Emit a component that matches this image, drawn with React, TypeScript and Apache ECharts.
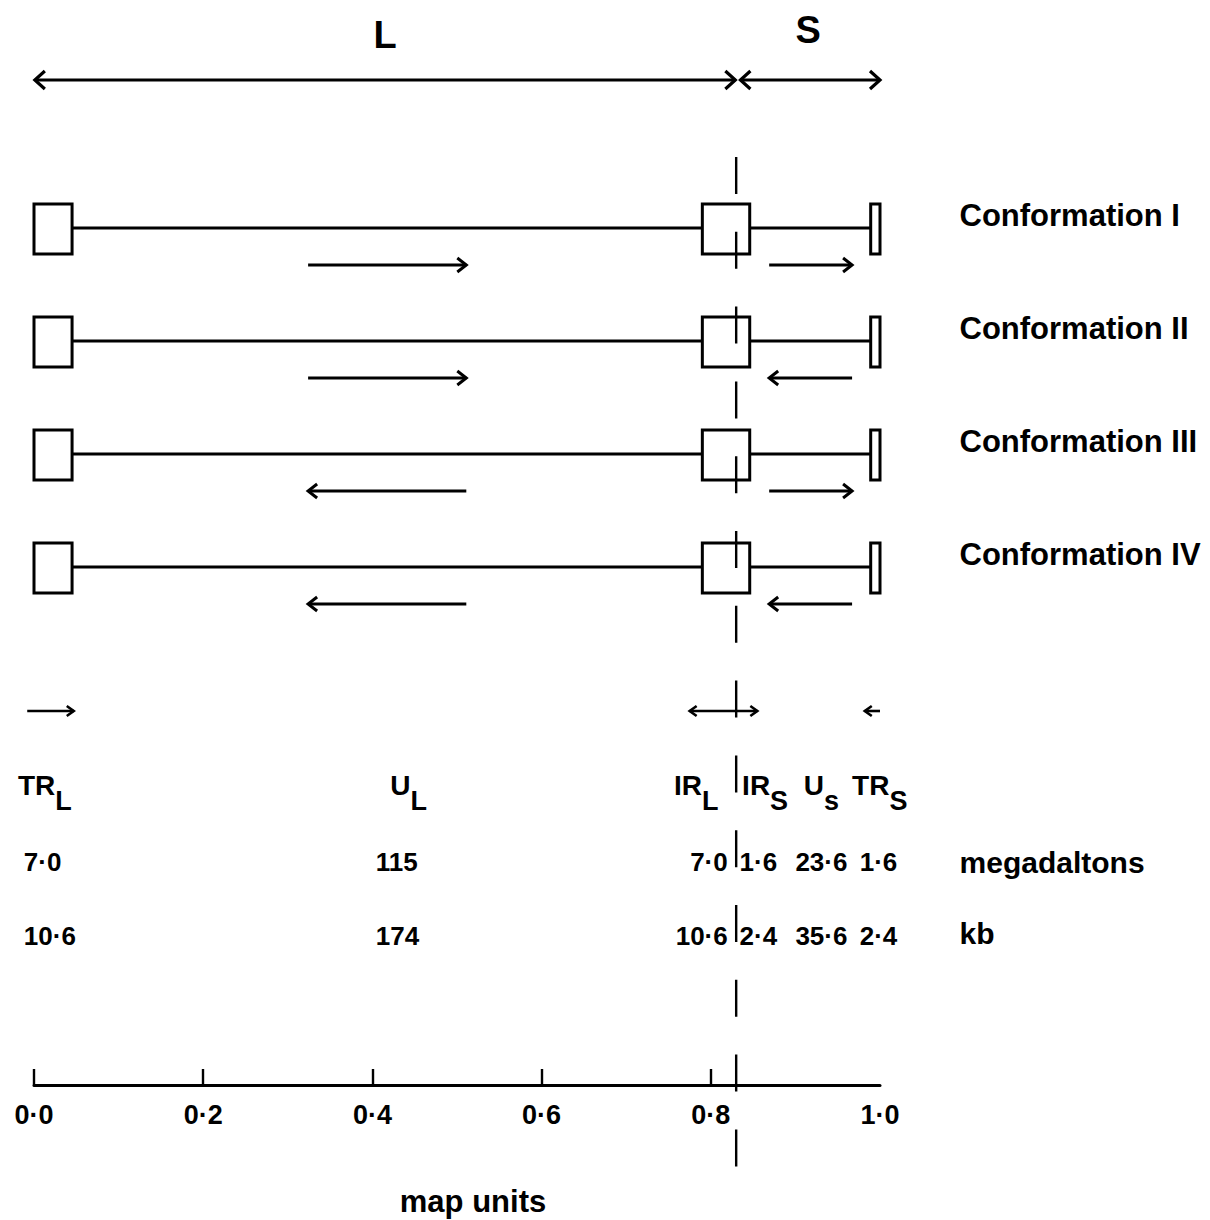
import React, { useEffect, useRef } from "react";
import * as echarts from "echarts";

// ---------------- data ----------------
const CONFORMATIONS = ["I", "II", "III", "IV"];
// +1: arrow points right (prototype orientation), -1: inverted
const L_ORIENTATION = [1, 1, -1, -1];
const S_ORIENTATION = [1, -1, 1, -1];

const SEGMENT_NAMES = ["TR", "U", "IR", "IR", "U", "TR"];
const SEGMENT_SUBS = ["L", "L", "L", "S", "s", "S"];
const MEGADALTONS = [7.0, 115, 7.0, 1.6, 23.6, 1.6];
const KILOBASES = [10.6, 174, 10.6, 2.4, 35.6, 2.4];
const UNIT_LABELS = ["megadaltons", "kb"];
const TICK_MARKS = [0, 0.2, 0.4, 0.6, 0.8];

// map-unit positions of drawn features
const L_S_JUNCTION = 0.83;
const TRL_BOX = [0, 0.045];
const IR_BOX = [0.79, 0.846];
const TRS_BOX = [0.989, 1.0];
const L_ARROW_SPAN = [0.324, 0.511];
const S_ARROW_SPAN = [0.869, 0.967];
const L_TOP_SPAN = [0.001, 0.829];
const S_TOP_SPAN = [0.835, 1.0];
// inversion arrows for each repeat: [from, to, headAtStart, headAtEnd]
const INVERSION_ARROWS = [
  [-0.008, 0.047, 0, 1],
  [0.775, 0.855, 1, 1],
  [1.0, 0.982, 0, 1],
];
const LABEL_ANCHORS = [-0.019, 0.421, 0.809, 0.837, 0.91, 0.967];
const VALUE_ANCHORS = [-0.012, 0.404, 0.82, 0.834, 0.9, 0.976];
const RIGHT_TEXT_X = 1.094;

// ---------------- layout (pixels) ----------------
const HEIGHT = 1220;
const AXIS_Y = 1085;
const ROW0 = 228;
const ROW_STEP = 113;
const BOX_UP = 24;
const BOX_DOWN = 26;
const ARROW_DROP = 37;
const TOP_ARROW_Y = 80;
const INV_ARROW_Y = 711;
const SEG_LABEL_Y = 793;
const MD_Y = 862;
const KB_Y = 936;
const DASH_TOP = 157;
const DASH_BOTTOM = 1172;
const STROKE = 3;

const FONT = '"Liberation Sans", Arial, Helvetica, sans-serif';
const bold = (s: number) => `bold ${s}px ${FONT}`;
const fmt = (v: number) => (v >= 100 ? String(v) : v.toFixed(1)).replace(".", "·");
const toY = (py: number) => AXIS_Y - py;
const rowY = (i: number) => ROW0 + ROW_STEP * i;

type TextItem = {
  x: number;
  py: number;
  text: string;
  size: number;
  align: "left" | "center" | "right";
  rich?: boolean;
};

function buildOption() {
  // segments: [x0, y0, x1, y1]
  const backbone: number[][] = [];
  const boxes: number[][] = [];
  const arrows: number[][] = [];
  CONFORMATIONS.forEach((_, i) => {
    const y = toY(rowY(i));
    backbone.push([TRL_BOX[1], y, IR_BOX[0], y]);
    backbone.push([IR_BOX[1], y, TRS_BOX[0], y]);
    [TRL_BOX, IR_BOX, TRS_BOX].forEach((b) => {
      boxes.push([b[0], toY(rowY(i) - BOX_UP), b[1], toY(rowY(i) + BOX_DOWN)]);
    });
    const ay = toY(rowY(i) + ARROW_DROP);
    const l = L_ORIENTATION[i] > 0 ? L_ARROW_SPAN : [L_ARROW_SPAN[1], L_ARROW_SPAN[0]];
    const s = S_ORIENTATION[i] > 0 ? S_ARROW_SPAN : [S_ARROW_SPAN[1], S_ARROW_SPAN[0]];
    arrows.push([l[0], l[1], ay, 0, 1]);
    arrows.push([s[0], s[1], ay, 0, 1]);
  });
  const topArrows = [
    [L_TOP_SPAN[0], L_TOP_SPAN[1], toY(TOP_ARROW_Y), 1, 1],
    [S_TOP_SPAN[0], S_TOP_SPAN[1], toY(TOP_ARROW_Y), 1, 1],
  ];
  const invArrows = INVERSION_ARROWS.map((a) => [a[0], a[1], toY(INV_ARROW_Y), a[2], a[3]]);
  const dashed = [[L_S_JUNCTION, toY(DASH_TOP), L_S_JUNCTION, toY(DASH_BOTTOM)]];

  const texts: TextItem[] = [];
  texts.push({ x: L_S_JUNCTION / 2, py: 35, text: "L", size: 38, align: "center" });
  texts.push({ x: (L_S_JUNCTION + 1) / 2, py: 30, text: "S", size: 38, align: "center" });
  CONFORMATIONS.forEach((c, i) =>
    texts.push({ x: RIGHT_TEXT_X, py: rowY(i) - 13, text: `Conformation ${c}`, size: 31, align: "left" })
  );
  SEGMENT_NAMES.forEach((n, i) =>
    texts.push({
      x: LABEL_ANCHORS[i],
      py: SEG_LABEL_Y,
      text: `{m|${n}}{s|${SEGMENT_SUBS[i]}}`,
      size: 28,
      align: i === 2 ? "right" : "left",
      rich: true,
    })
  );
  MEGADALTONS.forEach((v, i) =>
    texts.push({ x: VALUE_ANCHORS[i], py: MD_Y, text: fmt(v), size: 26, align: i === 2 ? "right" : "left" })
  );
  KILOBASES.forEach((v, i) =>
    texts.push({ x: VALUE_ANCHORS[i], py: KB_Y, text: fmt(v), size: 26, align: i === 2 ? "right" : "left" })
  );
  texts.push({ x: RIGHT_TEXT_X, py: MD_Y, text: UNIT_LABELS[0], size: 30, align: "left" });
  texts.push({ x: RIGHT_TEXT_X, py: KB_Y - 3, text: UNIT_LABELS[1], size: 30, align: "left" });

  const segSeries = (name: string, data: number[][], width: number, dash?: number[], z = 2) => ({
    type: "custom",
    name,
    coordinateSystem: "cartesian2d",
    clip: false,
    z,
    silent: true,
    data,
    renderItem: (_p: any, api: any) => {
      const a = api.coord([api.value(0), api.value(1)]);
      const b = api.coord([api.value(2), api.value(3)]);
      return {
        type: "line",
        shape: { x1: a[0], y1: a[1], x2: b[0], y2: b[1] },
        style: { stroke: "#000", lineWidth: width, lineDash: dash, lineCap: "butt", fill: null },
      };
    },
  });

  const arrowSeries = (name: string, data: number[][], width: number, len: number, half: number) => ({
    type: "custom",
    name,
    coordinateSystem: "cartesian2d",
    clip: false,
    z: 3,
    silent: true,
    data,
    renderItem: (_p: any, api: any) => {
      const a = api.coord([api.value(0), api.value(2)]);
      const b = api.coord([api.value(1), api.value(2)]);
      const dir = b[0] >= a[0] ? 1 : -1;
      const children: any[] = [
        {
          type: "line",
          shape: { x1: a[0], y1: a[1], x2: b[0], y2: b[1] },
          style: { stroke: "#000", lineWidth: width, fill: null },
        },
      ];
      const head = (tip: number[], d: number) => ({
        type: "polyline",
        shape: {
          points: [
            [tip[0] - d * len, tip[1] - half],
            [tip[0], tip[1]],
            [tip[0] - d * len, tip[1] + half],
          ],
        },
        style: { stroke: "#000", lineWidth: width, fill: null, lineJoin: "miter" },
      });
      if (api.value(3)) children.push(head(a, -dir));
      if (api.value(4)) children.push(head(b, dir));
      return { type: "group", children };
    },
  });

  return {
    animation: false,
    backgroundColor: "#ffffff",
    grid: {
      left: 34,
      right: 330,
      top: 0,
      bottom: HEIGHT - AXIS_Y,
      containLabel: false,
      outerBoundsMode: "none",
    },
    xAxis: {
      type: "value",
      min: 0,
      max: 1,
      interval: 0.2,
      splitLine: { show: false },
      axisLine: { show: true, onZero: false, lineStyle: { color: "#000", width: STROKE } },
      axisTick: {
        show: true,
        inside: true,
        length: 16,
        customValues: TICK_MARKS,
        lineStyle: { color: "#000", width: 2.4 },
      },
      axisLabel: {
        show: true,
        margin: 16,
        color: "#000",
        fontFamily: FONT,
        fontWeight: "bold",
        fontSize: 27,
        formatter: (v: number) => fmt(v),
      },
      name: "map units",
      nameLocation: "middle",
      nameGap: 101,
      nameTextStyle: {
        color: "#000",
        fontFamily: FONT,
        fontWeight: "bold",
        fontSize: 31,
        padding: [0, 0, 0, 32],
      },
    },
    yAxis: { type: "value", min: 0, max: toY(0), show: false },
    series: [
      segSeries("backbone", backbone, STROKE),
      {
        type: "custom",
        name: "boxes",
        coordinateSystem: "cartesian2d",
        clip: false,
        z: 3,
        silent: true,
        data: boxes,
        renderItem: (_p: any, api: any) => {
          const a = api.coord([api.value(0), api.value(1)]);
          const b = api.coord([api.value(2), api.value(3)]);
          return {
            type: "rect",
            shape: {
              x: Math.min(a[0], b[0]),
              y: Math.min(a[1], b[1]),
              width: Math.abs(b[0] - a[0]),
              height: Math.abs(b[1] - a[1]),
            },
            style: { stroke: "#000", lineWidth: STROKE, fill: "#fff" },
          };
        },
      },
      arrowSeries("orientation", arrows, STROKE, 9, 7),
      arrowSeries("L/S extent", topArrows, 3.2, 10, 9),
      arrowSeries("inversion", invArrows, 2.6, 7, 5),
      segSeries("L/S junction", dashed, 2.4, [37, 37.8], 5),
      {
        type: "custom",
        name: "texts",
        coordinateSystem: "cartesian2d",
        clip: false,
        z: 6,
        silent: true,
        data: texts.map((t) => [t.x, toY(t.py)]),
        renderItem: (p: any, api: any) => {
          const t = texts[p.dataIndex];
          const pt = api.coord([api.value(0), api.value(1)]);
          const style: any = {
            text: t.text,
            fill: "#000",
            font: bold(t.size),
            align: t.align,
            verticalAlign: "middle",
          };
          if (t.rich) {
            style.rich = {
              m: {
                font: bold(t.size),
                fontSize: t.size,
                fontWeight: "bold",
                fontFamily: FONT,
                fill: "#000",
                padding: [0, 0, 15, 0],
              },
              s: {
                font: bold(t.size - 1),
                fontSize: t.size - 1,
                fontWeight: "bold",
                fontFamily: FONT,
                fill: "#000",
                padding: [15, 0, 0, 0],
              },
            };
          }
          return { type: "text", x: pt[0], y: pt[1], style };
        },
      },
    ],
  };
}

export default function App() {
  const ref = useRef<HTMLDivElement>(null);
  useEffect(() => {
    if (!ref.current) return;
    const chart = echarts.init(ref.current, undefined, { renderer: "svg", width: 1210, height: HEIGHT });
    chart.setOption(buildOption() as any);
    return () => chart.dispose();
  }, []);
  return (
    <div
      ref={ref}
      style={{ position: "fixed", left: 0, top: 0, width: 1210, height: HEIGHT, background: "#fff" }}
    />
  );
}
